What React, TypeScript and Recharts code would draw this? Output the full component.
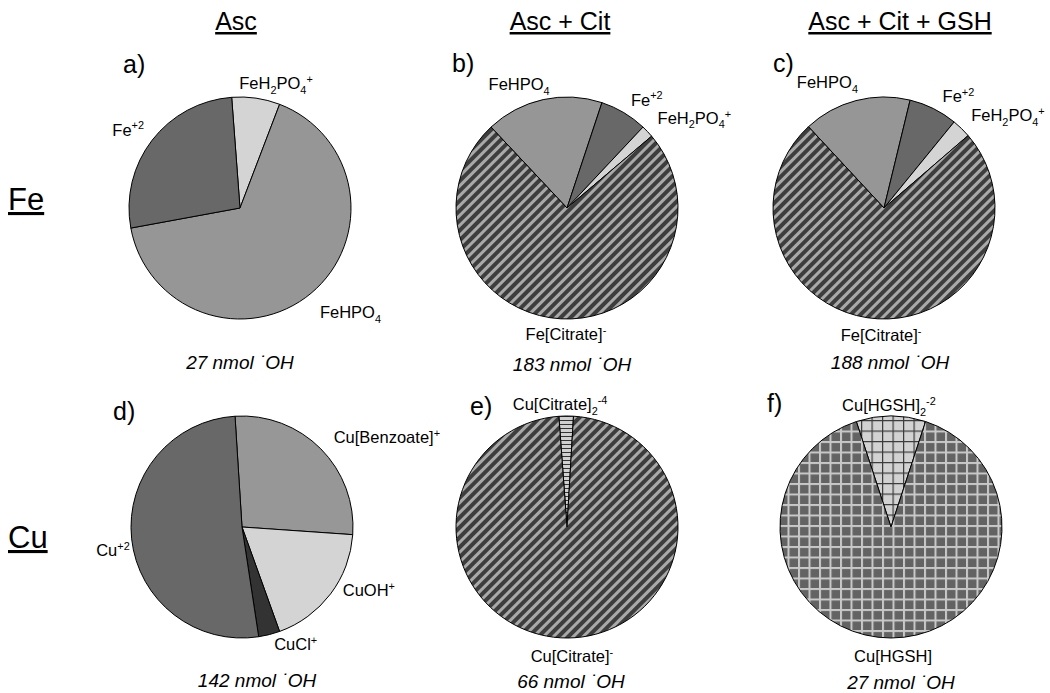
import { PieChart, Pie, Cell } from 'recharts'

const RAD = Math.PI / 180
const FONT = '"Liberation Sans", Arial, sans-serif'

// species names use _{..} for subscript and ^{..} for superscript
// a) Fe, Asc
const speciesA = ['FeH_{2}PO_{4}^{+}', 'FeHPO_{4}', 'Fe^{+2}']
const valuesA = [7.0, 66.3, 26.7]
// b) Fe, Asc + Cit
const speciesB = ['FeHPO_{4}', 'Fe^{+2}', 'FeH_{2}PO_{4}^{+}', 'Fe[Citrate]^{-}']
const valuesB = [17.1, 6.9, 1.8, 74.2]
// c) Fe, Asc + Cit + GSH
const speciesC = ['FeHPO_{4}', 'Fe^{+2}', 'FeH_{2}PO_{4}^{+}', 'Fe[Citrate]^{-}']
const valuesC = [15.7, 7.1, 2.8, 74.4]
// d) Cu, Asc
const speciesD = ['Cu[Benzoate]^{+}', 'CuOH^{+}', 'CuCl^{+}', 'Cu^{+2}']
const valuesD = [27.1, 18.4, 3.1, 51.4]
// e) Cu, Asc + Cit
const speciesE = ['Cu[Citrate]_{2}^{-4}', 'Cu[Citrate]^{-}']
const valuesE = [2.1, 97.9]
// f) Cu, Asc + Cit + GSH
const speciesF = ['Cu[HGSH]_{2}^{-2}', 'Cu[HGSH]']
const valuesF = [10.1, 89.9]

const columns = ['Asc', 'Asc + Cit', 'Asc + Cit + GSH']
const rows = ['Fe', 'Cu']
const letters = ['a)', 'b)', 'c)', 'd)', 'e)', 'f)']
const hydroxyl = [27, 183, 188, 142, 66, 27]

const fills: Record<string, string> = {
  'FeHPO_{4}': '#969696',
  'Fe^{+2}': '#686868',
  'FeH_{2}PO_{4}^{+}': '#d4d4d4',
  'Fe[Citrate]^{-}': 'url(#citStripe)',
  'Cu[Benzoate]^{+}': '#979797',
  'CuOH^{+}': '#d4d4d4',
  'CuCl^{+}': '#333333',
  'Cu^{+2}': '#686868',
  'Cu[Citrate]_{2}^{-4}': 'url(#cit2Lines)',
  'Cu[Citrate]^{-}': 'url(#citStripe)',
  'Cu[HGSH]_{2}^{-2}': 'url(#hgsh2Grid)',
  'Cu[HGSH]': 'url(#hgshGrid)',
}

const toRows = (names: string[], vals: number[]) => names.map((name, i) => ({ name, value: vals[i] }))

// layout: centre, first slice edge (deg clockwise from 12 o'clock), label nudges, letter + note spots
const panels = [
  { data: toRows(speciesA, valuesA), cx: 240, cy: 208, first: -4.3, nudge: [[18, -1], [0, 8], [3, -2]], letter: [123, 73], note: [240, 369] },
  { data: toRows(speciesB, valuesB), cx: 567, cy: 208, first: 316.8, nudge: [[-21, -2], [0, -1], [0, -4], [6, 1]], letter: [452, 72], note: [572, 371] },
  { data: toRows(speciesC, valuesC), cx: 884, cy: 208, first: 317.1, nudge: [[-25, -5], [3, 0], [0, -3], [4, 2]], letter: [773, 72], note: [890, 369] },
  { data: toRows(speciesD, valuesD), cx: 242, cy: 527, first: -3.6, nudge: [[3, -2], [1, -12], [23, -4], [12, 10]], letter: [113, 420], note: [257, 687] },
  { data: toRows(speciesE, valuesE), cx: 567, cy: 527, first: -4.2, nudge: [[-6, 2], [4, 4]], letter: [470, 415], note: [571, 688] },
  { data: toRows(speciesF, valuesF), cx: 891, cy: 527, first: -18.2, nudge: [[-2, 3], [2, 4]], letter: [767, 412], note: [901, 689] },
]

const parse = (s: string) => {
  const out: { t: string; k: string }[] = []
  const re = /([_^])\{([^}]*)\}/g
  let last = 0
  let m: RegExpExecArray | null
  while ((m = re.exec(s))) {
    if (m.index > last) out.push({ t: s.slice(last, m.index), k: 'n' })
    out.push({ t: m[2], k: m[1] === '_' ? 'sub' : 'sup' })
    last = m.index + m[0].length
  }
  if (last < s.length) out.push({ t: s.slice(last), k: 'n' })
  return out
}

const RichText = ({ x, y, anchor, text, size }: { x: number; y: number; anchor: string; text: string; size: number }) => {
  let shift = 0
  return (
    <text x={x} y={y} textAnchor={anchor as any} fontSize={size} fontFamily={FONT} fill="#000">
      {parse(text).map((p, i) => {
        const target = p.k === 'sub' ? size * 0.28 : p.k === 'sup' ? -size * 0.38 : 0
        const dy = target - shift
        shift = target
        return (
          <tspan key={i} dy={dy} fontSize={p.k === 'n' ? size : size * 0.66}>
            {p.t}
          </tspan>
        )
      })}
    </text>
  )
}

const makeLabel = (nudge: number[][]) => (p: any) => {
  const { cx, cy, midAngle, outerRadius, index } = p
  const name = p.name ?? p.payload?.name
  const r = outerRadius + 14
  const ux = Math.cos(-midAngle * RAD)
  const uy = Math.sin(-midAngle * RAD)
  const anchor = ux > 0.35 ? 'start' : ux < -0.35 ? 'end' : 'middle'
  const [dx, dy] = nudge[index] ?? [0, 0]
  return <RichText key={index} x={cx + r * ux + dx} y={cy + r * uy + 6 + dy} anchor={anchor} text={name} size={16.5} />
}

const Patterns = () => (
  <svg width={0} height={0} style={{ position: 'absolute' }}>
    <defs>
      <pattern id="citStripe" patternUnits="userSpaceOnUse" width={7} height={7} patternTransform="rotate(45)">
        <rect width={7} height={7} fill="#3d3d3d" />
        <rect width={3} height={7} fill="#a9a9a9" />
      </pattern>
      <pattern id="cit2Lines" patternUnits="userSpaceOnUse" width={8} height={4}>
        <rect width={8} height={4} fill="#d0d0d0" />
        <rect width={8} height={1} fill="#333" />
      </pattern>
      <pattern id="hgshGrid" patternUnits="userSpaceOnUse" width={10.5} height={10.5}>
        <rect width={10.5} height={10.5} fill="#636363" />
        <rect width={10.5} height={2} fill="#c8c8c8" />
        <rect width={2} height={10.5} fill="#c8c8c8" />
      </pattern>
      <pattern id="hgsh2Grid" patternUnits="userSpaceOnUse" width={10.5} height={10.5}>
        <rect width={10.5} height={10.5} fill="#d2d2d2" />
        <rect width={10.5} height={1.2} fill="#3a3a3a" />
        <rect width={1.2} height={10.5} fill="#3a3a3a" />
      </pattern>
    </defs>
  </svg>
)

const headerX = [236, 560, 900]
const rowY = [210, 548]

const App = () => (
  <div style={{ position: 'absolute', left: 0, top: 0, width: 1050, height: 693, background: '#fff', fontFamily: FONT }}>
    <Patterns />
    <PieChart width={1050} height={693} margin={{ top: 0, right: 0, bottom: 0, left: 0 }}>
      {panels.map((pn, k) => (
        <Pie
          key={k}
          data={pn.data}
          dataKey="value"
          nameKey="name"
          cx={pn.cx}
          cy={pn.cy}
          outerRadius={111}
          startAngle={90 - pn.first}
          endAngle={90 - pn.first - 360}
          stroke="#000"
          strokeWidth={1}
          label={makeLabel(pn.nudge)}
          labelLine={false}
          isAnimationActive={false}
        >
          {pn.data.map((d) => (
            <Cell key={d.name} fill={fills[d.name]} stroke="#000" strokeWidth={1} />
          ))}
        </Pie>
      ))}
    </PieChart>
    <svg width={1050} height={693} style={{ position: 'absolute', left: 0, top: 0, pointerEvents: 'none' }}>
      {columns.map((c, i) => (
        <text key={c} x={headerX[i]} y={30} textAnchor="middle" fontSize={25} fontFamily={FONT} style={{ textDecoration: 'underline' }}>
          {c}
        </text>
      ))}
      {rows.map((r, i) => (
        <text key={r} x={8} y={rowY[i]} fontSize={31} fontFamily={FONT} style={{ textDecoration: 'underline' }}>
          {r}
        </text>
      ))}
      {panels.map((pn, i) => (
        <text key={letters[i]} x={pn.letter[0]} y={pn.letter[1]} fontSize={25} fontFamily={FONT}>
          {letters[i]}
        </text>
      ))}
      {panels.map((pn, i) => (
        <text key={'n' + i} x={pn.note[0]} y={pn.note[1]} textAnchor="middle" fontSize={19} fontStyle="italic" fontFamily={FONT}>
          {`${hydroxyl[i]} nmol \u02D9OH`}
        </text>
      ))}
    </svg>
  </div>
)

export default App
